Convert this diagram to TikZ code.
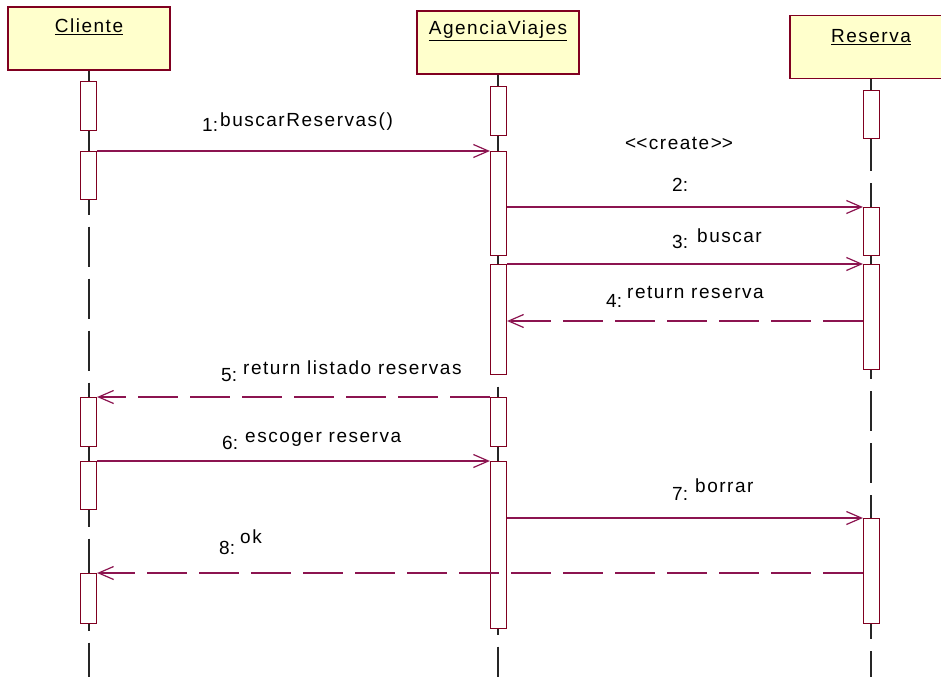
\documentclass[tikz,border=0pt]{standalone}
\usepackage{fontspec}
\setmainfont{Liberation Sans}
\newfontfamily\lblfont[LetterSpace=8]{Liberation Sans}
\usetikzlibrary{arrows.meta}
\definecolor{boxline}{RGB}{128,0,32}
\definecolor{msg}{RGB}{140,20,80}
\definecolor{titlefill}{RGB}{255,255,204}
\begin{document}
\begin{tikzpicture}[x=1pt,y=-1pt,
  titlebox/.style={draw=boxline, line width=1.4pt, fill=titlefill, minimum width=162pt, minimum height=63pt, inner sep=0pt},
  ttl/.style={inner sep=0pt, anchor=base, font=\lblfont\fontsize{19}{21}\selectfont},
  lbl/.style={inner sep=0pt, anchor=base west, font=\lblfont\fontsize{19}{21}\selectfont},
  num/.style={inner sep=0pt, anchor=base west, font=\fontsize{19}{21}\selectfont},
  act/.style={draw=boxline, fill=white, line width=1.2pt, minimum width=16pt, inner sep=0pt, anchor=north},
  lifeline/.style={draw=black!85, line width=1.2pt, dash pattern=on 40pt off 12pt},
  call/.style={draw=msg, line width=1.2pt, -{Straight Barb[length=15pt,width=13pt]}},
  reply/.style={call, dash pattern=on 40pt off 12pt}]
\useasboundingbox (0,0) rectangle (941,677);
\clip (0,0) rectangle (941,677);
\fill[white] (0,0) rectangle (941,677);
\coordinate (bot) at (0,677);
% title boxes
\node[titlebox] (cli) at (89,38.5) {};
\node[titlebox] (age) at (498,42.5) {};
\node[titlebox] (res) at (871,47) {};
% lifelines
\draw[lifeline] (cli.south) -- (cli.south |- bot);
\draw[lifeline] (age.south) -- (age.south |- bot);
\draw[lifeline] (res.south) -- (res.south |- bot);
% activation boxes
\node[act, minimum height=49pt] (c1) at (88.5,81) {};
\node[act, minimum height=48pt] (c2) at (88.5,151) {};
\node[act, minimum height=49pt] (c3) at (88.5,397) {};
\node[act, minimum height=48pt] (c4) at (88.5,461) {};
\node[act, minimum height=50pt] (c5) at (88.5,573) {};
\node[act, minimum height=49pt] (a1) at (498.5,86) {};
\node[act, minimum height=104pt] (a2) at (498.5,151) {};
\node[act, minimum height=110pt] (a3) at (498.5,264) {};
\node[act, minimum height=49pt] (a4) at (498.5,397) {};
\node[act, minimum height=167pt] (a5) at (498.5,461) {};
\node[act, minimum height=48pt] (r1) at (871.5,90) {};
\node[act, minimum height=48pt] (r2) at (871.5,207) {};
\node[act, minimum height=105pt] (r3) at (871.5,264) {};
\node[act, minimum height=105pt] (r4) at (871.5,518) {};
% messages
\coordinate (y4) at (0,321);
\draw[call] (c2.north east) -- (a2.north west);
\draw[call] (a2.east |- r2.north) -- (r2.north west);
\draw[call] (a3.north east) -- (r3.north west);
\draw[reply] (r3.west |- y4) -- (a3.east |- y4);
\draw[reply] (a4.north west) -- (c3.north east);
\draw[call] (c4.north east) -- (a5.north west);
\draw[call] (a5.east |- r4.north) -- (r4.north west);
\draw[reply] (r4.west |- c5.north) -- (c5.north east);
% labels
\node[num] (n1) at (202,131) {1:};
\node[lbl] (t1) at (220,126) {buscarReservas()};
\node[lbl] (cr) at (625,149) {<\kern0pt<create>\kern0pt>};
\node[num] (n2) at (672,191) {2:};
\node[num] (n3) at (672,248) {3:};
\node[lbl] (t3) at (697,242) {buscar};
\node[num] (n4) at (606,307) {4:};
\node[lbl] (t4) at (627,298) {return reserva};
\node[num] (n5) at (221,381) {5:};
\node[lbl] (t5) at (243,374) {return listado reservas};
\node[num] (n6) at (222,449) {6:};
\node[lbl] (t6) at (245,442) {escoger reserva};
\node[num] (n7) at (672,500) {7:};
\node[lbl] (t7) at (695,492) {borrar};
\node[num] (n8) at (219,554) {8:};
\node[lbl] (t8) at (240,543) {ok};
% titles
\node[ttl] (clit) at (89,33) {\underline{Cliente}};
\node[ttl] (aget) at (498,35) {\underline{AgenciaViajes}};
\node[ttl] (rest) at (871,43) {\underline{Reserva}};
\end{tikzpicture}
\end{document}
